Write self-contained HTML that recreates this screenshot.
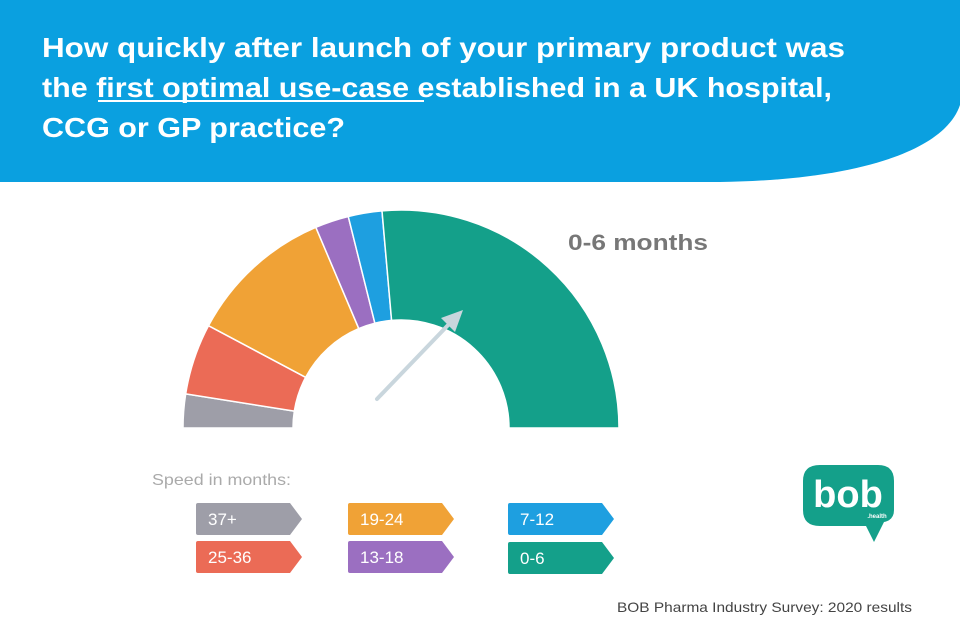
<!DOCTYPE html>
<html><head><meta charset="utf-8"><style>
html,body{margin:0;padding:0;background:#fff;width:960px;height:641px;overflow:hidden;font-family:"Liberation Sans",sans-serif;}
svg{position:absolute;left:0;top:0;}
</style></head><body>
<svg width="960" height="641" viewBox="0 0 960 641" xmlns="http://www.w3.org/2000/svg">
<path d="M0,0 H960 V105 C945,150 860,180 720,182 H0 Z" fill="#0aa0e0"/>
<g font-family="Liberation Sans, sans-serif" font-weight="bold" font-size="28" fill="#fff">
<text x="42" y="57" textLength="803" lengthAdjust="spacingAndGlyphs">How quickly after launch of your primary product was</text>
<text x="42" y="97" textLength="790" lengthAdjust="spacingAndGlyphs">the first optimal use-case established in a UK hospital,</text>
<text x="42" y="137" textLength="303" lengthAdjust="spacingAndGlyphs">CCG or GP practice?</text>
</g>
<line x1="98" y1="101" x2="424" y2="101" stroke="#fff" stroke-width="2"/>
<g id="gauge"></g>
<line x1="377" y1="399" x2="452" y2="321" stroke="#c9d6dd" stroke-width="4" stroke-linecap="round"/>
<polygon points="463,310 441,318 455,332" fill="#c9d6dd"/>
<text x="568" y="250" font-size="22" font-weight="bold" fill="#777" textLength="140" lengthAdjust="spacingAndGlyphs">0-6 months</text>
<text x="152" y="485" font-size="16" fill="#aaa" textLength="139" lengthAdjust="spacingAndGlyphs">Speed in months:</text>
<g id="leg" font-size="17" fill="#fff"></g>
<path d="M820,465 H878 Q894,465 894,481 V510 Q894,520 884,522 L874,542 L866,526 H820 Q803,526 803,510 V481 Q803,465 820,465 Z" fill="#14a08a"/>
<text x="848" y="507" font-size="38" font-weight="bold" fill="#fff" text-anchor="middle">bob</text>
<text x="877" y="518" font-size="6" font-weight="bold" fill="#fff" text-anchor="middle">.health</text>
<text x="617" y="612" font-size="14" fill="#444" textLength="295" lengthAdjust="spacingAndGlyphs">BOB Pharma Industry Survey: 2020 results</text>
</svg>
<script>
var cx=401,cy=428,R=218,r=108;
var segs=[[180,171,'#9e9ea8'],[171,152,'#eb6b56'],[152,113,'#f0a236'],[113,104,'#9b6fc1'],[104,95,'#1e9fe0'],[95,0,'#14a08a']];
function p(a,rr){var t=a*Math.PI/180;return (cx+rr*Math.cos(t)).toFixed(2)+','+(cy-rr*Math.sin(t)).toFixed(2);}
var s='';
segs.forEach(function(g){s+='<path d="M'+p(g[0],R)+' A'+R+','+R+' 0 0 1 '+p(g[1],R)+' L'+p(g[1],r)+' A'+r+','+r+' 0 0 0 '+p(g[0],r)+' Z" fill="'+g[2]+'" stroke="#fff" stroke-width="1.5"/>';});
document.getElementById('gauge').innerHTML=s;
var L=[[196,503,'37+','#9e9ea8'],[196,541,'25-36','#eb6b56'],[348,503,'19-24','#f0a236'],[348,541,'13-18','#9b6fc1'],[508,503,'7-12','#1e9fe0'],[508,542,'0-6','#14a08a']];
var h='';
L.forEach(function(l){var x=l[0],y=l[1],w=94,hh=32;h+='<path d="M'+(x+2)+','+y+' H'+(x+w)+' L'+(x+w+12)+','+(y+hh/2)+' L'+(x+w)+','+(y+hh)+' H'+(x+2)+' Q'+x+','+(y+hh)+' '+x+','+(y+hh-2)+' V'+(y+2)+' Q'+x+','+y+' '+(x+2)+','+y+' Z" fill="'+l[3]+'"/><text x="'+(x+12)+'" y="'+(y+22)+'">'+l[2]+'</text>';});
document.getElementById('leg').innerHTML=h;
</script>
</body></html>
